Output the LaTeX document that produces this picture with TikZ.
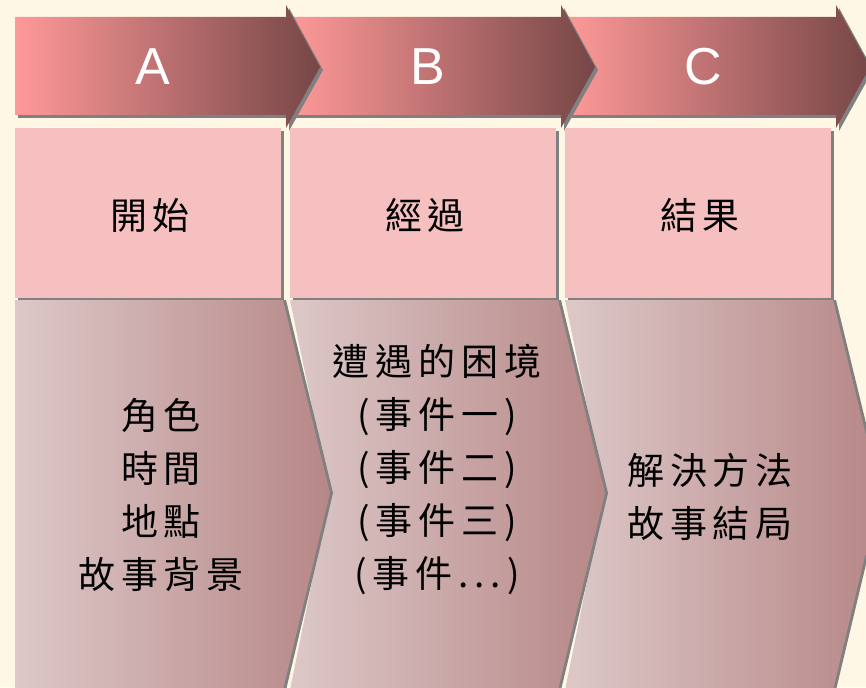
\documentclass[tikz,border=0pt]{standalone}
\usepackage{fontspec}
\setmainfont{Liberation Sans}
\newfontfamily\cjk[LetterSpace=16]{Noto Sans CJK TC}

\definecolor{cream}{RGB}{255,247,229}
\definecolor{arrowlight}{RGB}{255,153,153}
\definecolor{arrowdark}{RGB}{118,70,70}
\definecolor{boxpink}{RGB}{247,192,192}
\definecolor{lowlight}{RGB}{221,200,200}
\definecolor{lowdark}{RGB}{183,135,135}
\definecolor{shadowgray}{RGB}{128,128,128}

\begin{document}
\begin{tikzpicture}[x=1pt, y=-1pt,
		headtext/.style={text=white, font=\fontsize{52}{52}\selectfont},
		titletext/.style={font=\cjk\fontsize{37}{37}\selectfont},
		listtext/.style={font=\cjk\fontsize{37}{53}\selectfont, align=center}]
		\fill[cream] (0, 0) rectangle (866, 687);
		\useasboundingbox (0, 0) rectangle (866, 687);
		% top arrows, right to left so each head lies on the next body
		\foreach \i/\l in {2/C, 1/B, 0/A}
		{
			\pgfmathsetmacro\x{15+275*\i}
			\fill[shadowgray, shift={(3, 3)}] (\x, 17) -- (\x+271, 17) -- (\x+271, 5) -- (\x+305, 67) -- (\x+271, 128) -- (\x+271, 115) -- (\x, 115) -- cycle;
			\shade[left color=arrowlight, right color=arrowdark] (\x, 17) -- (\x+271, 17) -- (\x+271, 5) -- (\x+305, 67) -- (\x+271, 128) -- (\x+271, 115) -- (\x, 115) -- cycle;
			\node[headtext] (head\l) at (\x+138, 67) {\l};
		}
		% middle boxes
		\foreach \i/\t in {0/開始, 1/經過, 2/結果}
		{
			\pgfmathsetmacro\x{15+275*\i}
			\fill[shadowgray] (\x+3, 131) rectangle (\x+269, 301);
			\fill[boxpink] (\x, 128) rectangle (\x+266, 298);
			\node[titletext] (title\i) at (\x+135, 215) {\t};
		}
		% bottom chevrons
		\foreach \i/\n in {2/40, 1/40, 0/0}
		{
			\pgfmathsetmacro\x{15+275*\i}
			\fill[shadowgray, shift={(3, 0)}] (\x, 300) -- (\x+268, 300) -- (\x+315, 493) -- (\x+268, 690) -- (\x, 690) -- (\x+\n, 493) -- cycle;
			\shade[left color=lowlight, right color=lowdark] (\x, 300) -- (\x+268, 300) -- (\x+315, 493) -- (\x+268, 690) -- (\x, 690) -- (\x+\n, 493) -- cycle;
		}
		\node[listtext] (listA) at (161, 495) {角色\\時間\\地點\\故事背景};
		\node[listtext] (listB) at (437, 469) {遭遇的困境\\(事件一)\\(事件二)\\(事件三)\\(事件...)};
		\node[listtext] (listC) at (710, 497) {解決方法\\故事結局};
	\end{tikzpicture}
\end{document}
